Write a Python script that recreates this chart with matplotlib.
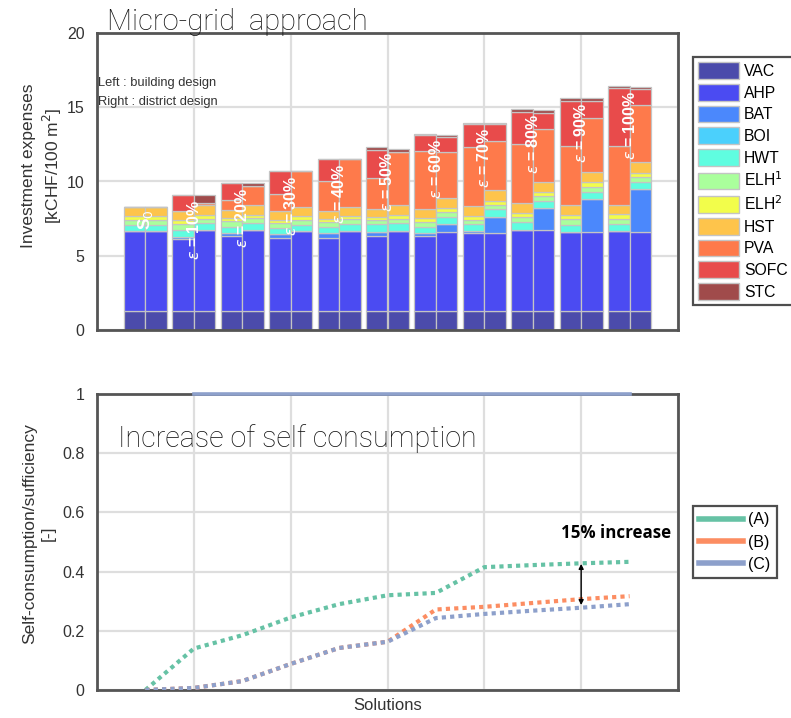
import numpy as np
import matplotlib
matplotlib.use("Agg")
import matplotlib.pyplot as plt
from matplotlib.patches import Patch
from matplotlib.lines import Line2D

# ---------------- data ----------------
solutions = np.arange(1, 12)
sol_labels = ["S$_0$", r"$\epsilon$ = 10%", r"$\epsilon$ = 20%", r"$\epsilon$ = 30%",
              r"$\epsilon$ = 40%", r"$\epsilon$ = 50%", r"$\epsilon$ = 60%",
              r"$\epsilon$ = 70%", r"$\epsilon$ = 80%", r"$\epsilon$ = 90%",
              r"$\epsilon$ = 100%"]

techs = ["VAC", "AHP", "BAT", "BOI", "HWT", "ELH$^1$", "ELH$^2$", "HST", "PVA", "SOFC", "STC"]
tech_colors = ["#4b4bab", "#4b4bf2", "#4b88fc", "#4bd0fc", "#5ffde0", "#aaff9c",
               "#f2fd4b", "#fec44b", "#fe7a4b", "#e84b4b", "#a04b4b"]

# building design (left bar of each pair) [kCHF/100 m2]
vac_b  = [1.25, 1.25, 1.25, 1.25, 1.25, 1.25, 1.25, 1.25, 1.25, 1.25, 1.25]
ahp_b  = [5.39, 4.88, 5.10, 4.95, 4.95, 5.10, 5.10, 5.28, 5.46, 5.37, 5.44]
bat_b  = [0.00, 0.15, 0.20, 0.29, 0.32, 0.28, 0.19, 0.17, 0.05, 0.00, 0.00]
boi_b  = [0.00, 0.00, 0.00, 0.00, 0.00, 0.00, 0.00, 0.00, 0.00, 0.00, 0.00]
hwt_b  = [0.41, 0.45, 0.40, 0.38, 0.40, 0.48, 0.40, 0.42, 0.50, 0.45, 0.47]
elh1_b = [0.38, 0.40, 0.38, 0.34, 0.34, 0.30, 0.34, 0.30, 0.34, 0.38, 0.34]
elh2_b = [0.27, 0.30, 0.22, 0.22, 0.22, 0.20, 0.27, 0.24, 0.29, 0.29, 0.31]
hst_b  = [0.59, 0.61, 0.55, 0.61, 0.56, 0.54, 0.60, 0.67, 0.65, 0.68, 0.58]
pva_b  = [0.00, 0.00, 0.68, 1.15, 1.98, 2.10, 3.90, 3.99, 3.96, 3.94, 3.99]
sofc_b = [0.00, 1.03, 1.13, 1.51, 1.47, 1.87, 1.08, 1.53, 2.19, 3.04, 3.89]
stc_b  = [0.00, 0.00, 0.00, 0.00, 0.00, 0.20, 0.05, 0.11, 0.16, 0.22, 0.16]

# district design (right bar of each pair)
vac_d  = [1.25, 1.25, 1.25, 1.25, 1.25, 1.25, 1.25, 1.25, 1.25, 1.25, 1.25]
ahp_d  = [5.39, 5.48, 5.51, 5.39, 5.39, 5.39, 5.32, 5.28, 5.46, 5.35, 5.35]
bat_d  = [0.00, 0.00, 0.00, 0.00, 0.00, 0.00, 0.59, 1.08, 1.51, 2.23, 2.90]
boi_d  = [0.00, 0.00, 0.00, 0.00, 0.00, 0.00, 0.00, 0.00, 0.00, 0.00, 0.00]
hwt_d  = [0.41, 0.45, 0.45, 0.46, 0.50, 0.54, 0.45, 0.51, 0.45, 0.47, 0.45]
elh1_d = [0.38, 0.32, 0.34, 0.34, 0.34, 0.32, 0.32, 0.30, 0.34, 0.34, 0.34]
elh2_d = [0.27, 0.27, 0.22, 0.22, 0.22, 0.22, 0.29, 0.25, 0.27, 0.31, 0.29]
hst_d  = [0.59, 0.63, 0.68, 0.61, 0.59, 0.68, 0.68, 0.74, 0.70, 0.71, 0.71]
pva_d  = [0.00, 0.13, 1.24, 2.43, 3.20, 3.58, 3.08, 3.31, 3.53, 3.64, 3.86]
sofc_d = [0.00, 0.00, 0.00, 0.00, 0.00, 0.00, 1.04, 1.13, 1.09, 1.13, 1.06]
stc_d  = [0.00, 0.54, 0.22, 0.00, 0.00, 0.22, 0.11, 0.11, 0.20, 0.16, 0.18]

# self-consumption / sufficiency [-]
series_A = [0.00, 0.14, 0.185, 0.245, 0.29, 0.32, 0.328, 0.415, 0.422, 0.428, 0.433]
series_B = [0.00, 0.007, 0.03, 0.088, 0.142, 0.163, 0.272, 0.281, 0.294, 0.307, 0.317]
series_C = [0.00, 0.007, 0.03, 0.088, 0.142, 0.163, 0.243, 0.257, 0.268, 0.278, 0.290]
sufficiency_C = [np.nan, 1, 1, 1, 1, 1, 1, 1, 1, 1, 1]
line_labels = ["(A)", "(B)", "(C)"]
line_colors = ["#66c2a5", "#fc8d62", "#8da0cb"]

building = [vac_b, ahp_b, bat_b, boi_b, hwt_b, elh1_b, elh2_b, hst_b, pva_b, sofc_b, stc_b]
district = [vac_d, ahp_d, bat_d, boi_d, hwt_d, elh1_d, elh2_d, hst_d, pva_d, sofc_d, stc_d]

# ---------------- figure ----------------
plt.rcParams["font.family"] = ["Liberation Sans", "DejaVu Sans"]
W, H = 791, 718
fig = plt.figure(figsize=(W / 100, H / 100), dpi=100)
ax1 = fig.add_axes([97 / W, 1 - 330 / H, 581 / W, 297 / H])
ax2 = fig.add_axes([97 / W, 1 - 690 / H, 581 / W, 296 / H])

grid_c = "#dedede"
spine_c = "#555555"
txt_c = "#333333"

def style(ax):
    ax.set_axisbelow(True)
    ax.grid(True, color=grid_c, lw=1.6)
    for s in ax.spines.values():
        s.set_color(spine_c)
        s.set_linewidth(2.0)
    ax.tick_params(length=0, pad=9, labelsize=11.5, colors=txt_c)
    ax.set_xlim(0, 12)
    ax.set_xticks(np.arange(0, 13, 2))
    ax.set_xticklabels([])

style(ax1)
style(ax2)

# ---- stacked bars ----
bw = 0.444
totals = []
for design, offset in ((building, -bw / 2), (district, bw / 2)):
    bottom = np.zeros(len(solutions))
    for vals, col in zip(design, tech_colors):
        vals = np.asarray(vals, dtype=float)
        ax1.bar(solutions + offset, vals, bw, bottom=bottom, color=col,
                edgecolor="#c4c4c4", linewidth=0.9, zorder=2)
        bottom += vals
    totals.append(bottom.copy())

tops = np.maximum(totals[0], totals[1])
for x, t, lab in zip(solutions, tops, sol_labels):
    if lab.startswith("S"):
        ax1.text(x, 7.45, lab, rotation=90, ha="center", va="center",
                 color="white", fontsize=12.5, fontweight="bold", zorder=4)
    else:
        ax1.text(x, t - 0.3, lab, rotation=90, ha="center", va="top",
                 color="white", fontsize=11.5, fontweight="bold", zorder=4)

ax1.set_ylim(0, 20)
ax1.set_yticks([0, 5, 10, 15, 20])
ax1.set_ylabel("Investment expenses\n[kCHF/100 m$^2$]", fontsize=12.5, color=txt_c,
               linespacing=1.3)
ax1.yaxis.set_label_coords(-0.056, 0.552)
ax1.text(0.03, 16.65, "Left : building design", fontsize=9.3, color=txt_c, va="center")
ax1.text(0.03, 15.35, "Right : district design", fontsize=9.3, color=txt_c, va="center")
fig.text(107 / W, 1 - 30 / H, "Micro-grid  approach", fontsize=21, color="#111111",
         family="Roboto", fontweight="light", va="baseline")

# ---- lines ----
ax2.plot(solutions, series_A, color=line_colors[0], lw=3, ls=(0, (1, 1)), zorder=3)
ax2.plot(solutions, series_B, color=line_colors[1], lw=3, ls=(0, (1, 1)), zorder=3)
ax2.plot(solutions, series_C, color=line_colors[2], lw=3, ls=(0, (1, 1)), zorder=3)
ax2.plot(solutions, sufficiency_C, color=line_colors[2], lw=2.6, zorder=6, clip_on=False)
ax2.annotate("", xy=(10, 0.287), xytext=(10, 0.426),
             arrowprops=dict(arrowstyle="<|-|>", color="black", lw=1.0,
                             mutation_scale=7, shrinkA=0, shrinkB=0), zorder=7)
ax2.text(10.73, 0.529, "15% increase", ha="center", va="center", fontsize=12.2,
         fontweight="bold", family="Open Sans", color="black")
ax2.text(0.434, 0.821, "Increase of self consumption", fontsize=20.6, color="#111111",
         family="Roboto", fontweight="light", va="baseline")

ax2.set_ylim(0, 1)
ax2.set_yticks([0, 0.2, 0.4, 0.6, 0.8, 1.0])
ax2.set_yticklabels(["0", "0.2", "0.4", "0.6", "0.8", "1"])
ax2.set_ylabel("Self-consumption/sufficiency\n[-]", fontsize=12.5, color=txt_c,
               linespacing=1.3)
ax2.yaxis.set_label_coords(-0.071, 0.53)
ax2.set_xlabel("Solutions", fontsize=12, color=txt_c)
ax2.xaxis.set_label_coords(0.5, -0.028)

# ---- legends ----
patches = [Patch(facecolor=c, edgecolor="#c4c4c4", label=t) for t, c in zip(techs, tech_colors)]
leg1 = fig.legend(handles=patches, loc="upper left", bbox_to_anchor=(693 / W, 1 - 57 / H),
                  frameon=True, fancybox=False, fontsize=11.3, handlelength=2.6,
                  handleheight=1.25, labelspacing=0.32, borderpad=0.35,
                  handletextpad=0.3, borderaxespad=0)
leg1.get_frame().set_edgecolor("#222222")
leg1.get_frame().set_linewidth(1.6)

handles2 = [Line2D([0], [0], color=c, lw=4, label=l) for l, c in zip(line_labels, line_colors)]
leg2 = fig.legend(handles=handles2, loc="upper left", bbox_to_anchor=(693 / W, 1 - 506 / H),
                  frameon=True, fancybox=False, fontsize=11.5, handlelength=2.7,
                  labelspacing=0.45, borderpad=0.4, handletextpad=0.35, borderaxespad=0)
leg2.get_frame().set_edgecolor("#222222")
leg2.get_frame().set_linewidth(1.6)

fig.savefig("out.png", dpi=100)
